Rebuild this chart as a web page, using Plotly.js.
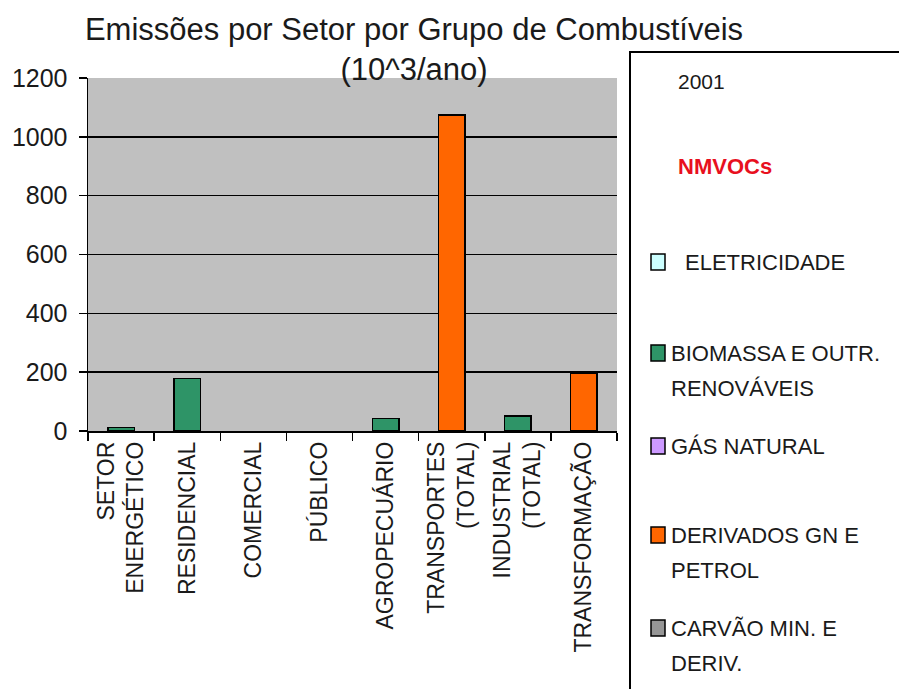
<!DOCTYPE html>
<html>
<head>
<meta charset="utf-8">
<script src="https://cdn.plot.ly/plotly-3.0.1.min.js"></script>
<style>html,body{margin:0;padding:0;background:#fff;}#chart{width:899px;height:689px;}</style>
</head>
<body>
<div id="chart"></div>
<script>
// ---- data ----
const categories = ['SETOR<br>ENERGÉTICO','RESIDENCIAL','COMERCIAL','PÚBLICO','AGROPECUÁRIO','TRANSPORTES<br>(TOTAL)','INDUSTRIAL<br>(TOTAL)','TRANSFORMAÇÃO'];
const seriesNames = ['ELETRICIDADE','BIOMASSA E OUTR.\nRENOVÁVEIS','GÁS NATURAL','DERIVADOS GN E\nPETROL','CARVÃO MIN. E\nDERIV.'];
const seriesColors = ['#CCFFFF','#2E9467','#CC99FF','#FF6600','#969696'];
const eletricidade = [null,null,null,null,null,null,null,null];
const biomassa     = [12,178,null,null,43,null,51,null];
const gasNatural   = [null,null,null,null,null,null,null,null];
const derivados    = [null,null,null,null,null,1075,null,196];
const carvao       = [null,null,null,null,null,null,null,null];
const yTicks = [0,200,400,600,800,1000,1200];
const legendYear = '2001';
const legendPollutant = 'NMVOCs';
const seriesValues = [eletricidade,biomassa,gasNatural,derivados,carvao];

// ---- layout helpers ----
const W = 899, H = 689;
const L = 88, R = 617, T = 78, B = 431;
const px = x => (x - L) / (R - L);
const py = y => (B - y) / (B - T);
const FONT = 'Liberation Sans, Arial, Helvetica, sans-serif';

const traces = seriesValues.map((vals, i) => ({
  type: 'bar',
  x: categories,
  y: vals,
  name: seriesNames[i].replace('\n', ' '),
  marker: {color: seriesColors[i], line: {color: '#000', width: 1.5}},
  showlegend: false,
  hoverinfo: 'x+y+name'
}));

const shapes = [{
  type: 'rect', xref: 'paper', yref: 'paper',
  x0: px(630), x1: px(930), y0: py(52), y1: py(720),
  line: {color: '#000', width: 2}, fillcolor: 'rgba(0,0,0,0)'
}];
const annotations = [
  {xref:'paper', yref:'paper', x: px(676), y: py(81), xanchor:'left', yanchor:'middle', showarrow:false,
   text: legendYear, font:{family:FONT, size:21, color:'#1a1a1a'}},
  {xref:'paper', yref:'paper', x: px(676), y: py(166), xanchor:'left', yanchor:'middle', showarrow:false,
   text: '<b>' + legendPollutant + '</b>', font:{family:FONT, size:22, color:'#E8101E'}}
];
const itemY = [262, 353, 446, 535, 628];
const lineGap = 35;
seriesNames.forEach((nm, i) => {
  const yc = itemY[i];
  shapes.push({
    type:'rect', xref:'paper', yref:'paper',
    x0: px(651), x1: px(665), y0: py(yc + 8), y1: py(yc - 8),
    fillcolor: seriesColors[i], line:{color:'#000', width:1.5}
  });
  nm.split('\n').forEach((ln, j) => {
    annotations.push({
      xref:'paper', yref:'paper', x: px(i === 0 ? 683 : 669), y: py(yc + j * lineGap),
      xanchor:'left', yanchor:'middle', showarrow:false, text: ln,
      font:{family:FONT, size:22, color:'#1a1a1a'}
    });
  });
});

const layout = {
  width: W, height: H,
  margin: {l: L, r: W - R, t: T, b: H - B, pad: 0},
  paper_bgcolor: '#ffffff',
  plot_bgcolor: '#C0C0C0',
  barmode: 'stack',
  bargap: 0.6,
  font: {family: FONT, color: '#1a1a1a'},
  title: {
    text: 'Emissões por Setor por Grupo de Combustíveis<br>(10^3/ano)',
    font: {family: FONT, size: 31, color: '#1a1a1a'},
    x: 414 / W, xanchor: 'center', xref: 'container',
    y: 1 - 40 / H, yanchor: 'top', yref: 'container'
  },
  xaxis: {
    type: 'category',
    tickson: 'boundaries',
    ticks: 'outside', ticklen: 8, tickwidth: 1.5, tickcolor: '#000',
    showline: true, linecolor: '#000', linewidth: 1.5,
    showgrid: false, zeroline: false,
    tickangle: -90,
    tickfont: {family: FONT, size: 23, color: '#1a1a1a'},
    automargin: false
  },
  yaxis: {
    range: [0, 1200],
    tickvals: yTicks,
    ticktext: yTicks.map(String),
    ticks: 'outside', ticklen: 8, tickwidth: 1.5, tickcolor: '#000',
    showline: true, linecolor: '#000', linewidth: 1.5,
    showgrid: true, gridcolor: '#000', gridwidth: 1.5,
    zeroline: false,
    tickfont: {family: FONT, size: 25, color: '#1a1a1a'},
    ticklabelstandoff: 6,
    automargin: false
  },
  shapes: shapes,
  annotations: annotations
};

Plotly.newPlot('chart', traces, layout, {displayModeBar: false, staticPlot: true});
</script>
</body>
</html>
